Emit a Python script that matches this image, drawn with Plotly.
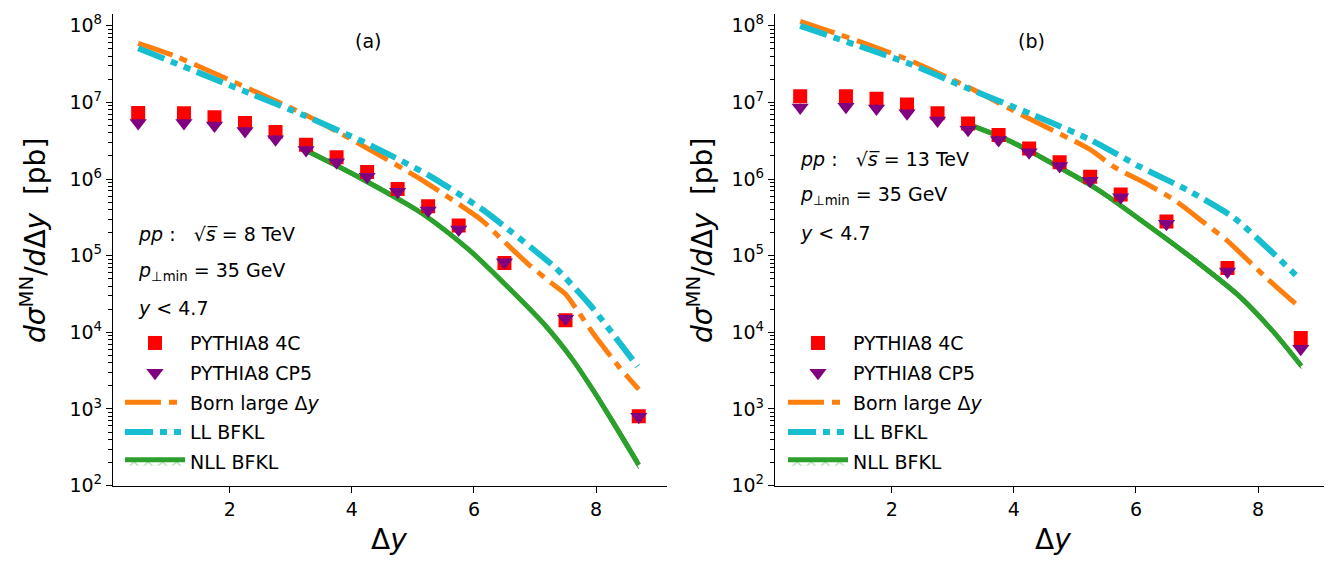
import plotly.graph_objects as go

# ---------------- data ----------------
dy_pts = [0.5, 1.25, 1.75, 2.25, 2.75, 3.25, 3.75, 4.25, 4.75, 5.25, 5.75, 6.5, 7.5, 8.7]

# panel (a): sqrt(s) = 8 TeV
a_4c = [7.3e6, 7.2e6, 6.4e6, 5.4e6, 4.1e6, 2.8e6, 1.92e6, 1.24e6, 7.4e5, 4.4e5, 2.47e5, 8.0e4, 1.44e4, 8.0e2]
a_cp5 = [5.4e6, 5.4e6, 5.0e6, 4.25e6, 3.3e6, 2.4e6, 1.66e6, 1.07e6, 6.8e5, 3.9e5, 2.19e5, 8.2e4, 1.5e4, 7.9e2]

a_born_x = [0.5, 1.11, 2.16, 3.19, 4.18, 5.15, 6.14, 6.42, 6.88, 7.26, 7.5, 7.69, 7.97, 8.37, 8.7]
a_born_y = [5.9e7, 4.0e7, 1.71e7, 7.2e6, 2.72e6, 9.7e5, 2.85e5, 1.74e5, 7.9e4, 4.45e4, 3.16e4, 1.95e4, 9.3e3, 3.6e3, 1.8e3]

a_ll_x = [0.5, 2.34, 3.19, 4.21, 5.26, 6.14, 6.63, 6.96, 7.34, 7.89, 8.68]
a_ll_y = [5.1e7, 1.3e7, 6.9e6, 3.0e6, 1.12e6, 4.0e5, 2.0e5, 1.23e5, 6.9e4, 2.34e4, 3.6e3]

a_nll_x = [3.26, 3.74, 4.19, 4.8, 5.17, 5.93, 6.63, 7.18, 7.61, 7.94, 8.27, 8.7]
a_nll_y = [2.34e6, 1.51e6, 9.8e5, 5.25e5, 3.47e5, 1.17e5, 3.4e4, 1.2e4, 4.47e3, 1.82e3, 6.9e2, 1.86e2]
a_nll_hi = [2.5e6, 1.61e6, 1.05e6, 5.6e5, 3.7e5, 1.25e5, 3.65e4, 1.29e4, 4.85e3, 2.0e3, 7.7e2, 2.1e2]
a_nll_lo = [2.2e6, 1.42e6, 9.2e5, 4.95e5, 3.26e5, 1.1e5, 3.2e4, 1.12e4, 4.1e3, 1.64e3, 6.1e2, 1.65e2]

# panel (b): sqrt(s) = 13 TeV
b_4c = [1.2e7, 1.2e7, 1.12e7, 9.4e6, 7.2e6, 5.3e6, 3.75e6, 2.5e6, 1.66e6, 1.07e6, 6.3e5, 2.8e5, 6.9e4, 8.4e3]
b_cp5 = [8.6e6, 8.8e6, 8.3e6, 7.2e6, 5.8e6, 4.4e6, 3.24e6, 2.23e6, 1.48e6, 9.5e5, 5.8e5, 2.6e5, 6.2e4, 6.1e3]

b_born_x = [0.5, 1.14, 2.2, 3.2, 4.19, 5.24, 5.64, 6.18, 6.62, 7.11, 7.49, 8.14, 8.7]
b_born_y = [1.14e8, 7.7e7, 3.8e7, 1.66e7, 6.5e6, 2.45e6, 1.44e6, 8.6e5, 5.4e5, 2.72e5, 1.58e5, 5.1e4, 2.05e4]

b_ll_x = [0.5, 2.32, 3.2, 4.31, 5.24, 6.07, 6.84, 7.6, 8.25, 8.68]
b_ll_y = [9.95e7, 3.13e7, 1.58e7, 6.9e6, 3.29e6, 1.44e6, 7.2e5, 3.15e5, 1.07e5, 5.0e4]

b_nll_x = [3.28, 3.78, 4.25, 4.78, 5.24, 5.53, 6.07, 6.62, 7.16, 7.71, 8.25, 8.71]
b_nll_y = [5.1e6, 3.56e6, 2.34e6, 1.37e6, 8.5e5, 6.0e5, 2.95e5, 1.41e5, 6.6e4, 2.88e4, 1.02e4, 3.63e3]
b_nll_hi = [5.4e6, 3.8e6, 2.5e6, 1.46e6, 9.1e5, 6.4e5, 3.15e5, 1.51e5, 7.1e4, 3.12e4, 1.1e4, 3.95e3]
b_nll_lo = [4.8e6, 3.35e6, 2.2e6, 1.28e6, 7.9e5, 5.6e5, 2.75e5, 1.31e5, 6.1e4, 2.66e4, 9.4e3, 3.35e3]

y_tickvals = [1e2, 1e3, 1e4, 1e5, 1e6, 1e7, 1e8]
y_ticktext = ["10<sup>2</sup>", "10<sup>3</sup>", "10<sup>4</sup>", "10<sup>5</sup>",
              "10<sup>6</sup>", "10<sup>7</sup>", "10<sup>8</sup>"]
x_tickvals = [2, 4, 6, 8]

# ---------------- styling ----------------
W, H = 1332, 561
FONT = "DejaVu Sans"
ORANGE = "#ff7f0e"
CYAN = "#17becf"
GREEN = "#2ca02c"
RED = "#ff0000"
PURPLE = "#800080"

fig = go.Figure()


def add_panel(ax, leg, b_x, b_y, l_x, l_y, n_x, n_y, n_hi, n_lo, p4c, pcp5):
    xa = "x" if ax == 1 else "x2"
    ya = "y" if ax == 1 else "y2"
    sfx = str(ax)
    # NLL band (lower edge, centre with fill, upper edge)
    fig.add_trace(go.Scatter(x=n_x, y=n_lo, mode="lines", xaxis=xa, yaxis=ya,
                             line=dict(color=GREEN, width=1, shape="spline", smoothing=0.8),
                             showlegend=False,
                             legend=leg, legendgroup="nll" + sfx, hoverinfo="skip"))
    fig.add_trace(go.Scatter(x=n_x, y=n_y, mode="lines", xaxis=xa, yaxis=ya,
                             line=dict(color=GREEN, width=5, shape="spline", smoothing=0.8),
                             name="NLL BFKL",
                             fill="tonexty", fillcolor="rgba(44,160,44,0.15)",
                             fillpattern=dict(shape="x", fgcolor=GREEN, bgcolor="rgba(0,0,0,0)",
                                              size=10, solidity=0.2),
                             legend=leg, legendgroup="nll" + sfx, legendrank=5))
    fig.add_trace(go.Scatter(x=n_x, y=n_hi, mode="lines", xaxis=xa, yaxis=ya,
                             line=dict(color=GREEN, width=1, shape="spline", smoothing=0.8),
                             showlegend=False,
                             fill="tonexty", fillcolor="rgba(44,160,44,0.15)",
                             legend=leg, legendgroup="nll" + sfx, hoverinfo="skip"))
    # Born and LL BFKL
    fig.add_trace(go.Scatter(x=b_x, y=b_y, mode="lines", xaxis=xa, yaxis=ya,
                             line=dict(color=ORANGE, width=5, dash="36px,8px,8px,8px",
                                       shape="spline", smoothing=0.6),
                             name="Born large Δ<i>y</i>", legend=leg,
                             legendgroup="born" + sfx, legendrank=3))
    fig.add_trace(go.Scatter(x=l_x, y=l_y, mode="lines", xaxis=xa, yaxis=ya,
                             line=dict(color=CYAN, width=6, dash="28px,7px,7px,7px,7px,7px",
                                       shape="spline", smoothing=0.6),
                             name="LL BFKL", legend=leg,
                             legendgroup="ll" + sfx, legendrank=4))
    # PYTHIA points
    fig.add_trace(go.Scatter(x=dy_pts, y=p4c, mode="markers", xaxis=xa, yaxis=ya,
                             marker=dict(symbol="square", size=14, color=RED),
                             error_y=dict(type="percent", value=12, color=RED, thickness=2, width=0),
                             name="PYTHIA8 4C", legend=leg,
                             legendgroup="p4c" + sfx, legendrank=1))
    fig.add_trace(go.Scatter(x=dy_pts, y=pcp5, mode="markers", xaxis=xa, yaxis=ya,
                             marker=dict(symbol="triangle-down", size=15, color=PURPLE),
                             error_y=dict(type="percent", value=12, color=PURPLE, thickness=2, width=0),
                             name="PYTHIA8 CP5", legend=leg,
                             legendgroup="cp5" + sfx, legendrank=2))


add_panel(1, "legend", a_born_x, a_born_y, a_ll_x, a_ll_y,
          a_nll_x, a_nll_y, a_nll_hi, a_nll_lo, a_4c, a_cp5)
add_panel(2, "legend2", b_born_x, b_born_y, b_ll_x, b_ll_y,
          b_nll_x, b_nll_y, b_nll_hi, b_nll_lo, b_4c, b_cp5)


def px(x):
    return x / W


def py(y):
    return 1 - y / H


axis_common = dict(showline=True, linecolor="black", linewidth=1.3, mirror=False,
                   ticks="outside", tickcolor="black", ticklen=6, tickwidth=1.3,
                   showgrid=False, zeroline=False,
                   tickfont=dict(family=FONT, size=19, color="black"))

xr = [0.0875, 9.1625]
yr = [2, 8.155]
ydom = [py(487), py(5)]
minor_y = dict(ticks="outside", ticklen=3.5, tickcolor="black", tickwidth=1, dtick="D1", showgrid=False)

fig.update_layout(
    width=W, height=H,
    margin=dict(l=0, r=0, t=0, b=0),
    paper_bgcolor="white", plot_bgcolor="white",
    font=dict(family=FONT, size=19, color="black"),
    xaxis=dict(domain=[px(105), px(659)], range=xr, tickvals=x_tickvals, anchor="y", **axis_common),
    yaxis=dict(domain=ydom, type="log", range=yr, tickvals=y_tickvals, ticktext=y_ticktext,
               anchor="x", minor=minor_y, **axis_common),
    xaxis2=dict(domain=[px(767), px(1321)], range=xr, tickvals=x_tickvals, anchor="y2", **axis_common),
    yaxis2=dict(domain=ydom, type="log", range=yr, tickvals=y_tickvals, ticktext=y_ticktext,
                anchor="x2", minor=minor_y, **axis_common),
    legend=dict(x=px(112), y=py(322), xanchor="left", yanchor="top",
                bgcolor="rgba(0,0,0,0)", borderwidth=0, itemwidth=60,
                tracegroupgap=2, font=dict(family=FONT, size=19, color="black")),
    legend2=dict(x=px(775), y=py(322), xanchor="left", yanchor="top",
                 bgcolor="rgba(0,0,0,0)", borderwidth=0, itemwidth=60,
                 tracegroupgap=2, font=dict(family=FONT, size=19, color="black")),
)

ann = []
ann_font = dict(family=FONT, size=19, color="black")
# panel labels
ann.append(dict(x=px(360), y=py(33), text="(a)", showarrow=False, xanchor="center", yanchor="middle", font=ann_font))
ann.append(dict(x=px(1023), y=py(33), text="(b)", showarrow=False, xanchor="center", yanchor="middle", font=ann_font))
# kinematics text
for x0, ys, en in [(128, (230, 268, 306), "8"), (790, (153, 191, 229), "13")]:
    ann.append(dict(x=px(x0), y=py(ys[0]), text="<i>pp</i> :   √<i>s\u0305</i> = " + en + " TeV",
                    showarrow=False, xanchor="left", yanchor="middle", font=ann_font))
    ann.append(dict(x=px(x0), y=py(ys[1]), text="<i>p</i><sub>⊥min</sub> = 35 GeV",
                    showarrow=False, xanchor="left", yanchor="middle", font=ann_font))
    ann.append(dict(x=px(x0), y=py(ys[2]), text="<i>y</i> < 4.7",
                    showarrow=False, xanchor="left", yanchor="middle", font=ann_font))
# axis titles
ytitle = "<i>dσ</i><sup>MN</sup>/<i>d</i>Δ<i>y</i>  [pb]"
title_font = dict(family=FONT, size=28, color="black")
ann.append(dict(x=px(26), y=py(237), text=ytitle, textangle=-90, showarrow=False,
                xanchor="center", yanchor="middle", font=title_font))
ann.append(dict(x=px(693), y=py(237), text=ytitle, textangle=-90, showarrow=False,
                xanchor="center", yanchor="middle", font=title_font))
ann.append(dict(x=px(381), y=py(542), text="Δ<i>y</i>", showarrow=False,
                xanchor="center", yanchor="middle", font=title_font))
ann.append(dict(x=px(1045), y=py(542), text="Δ<i>y</i>", showarrow=False,
                xanchor="center", yanchor="middle", font=title_font))
for a in ann:
    a["xref"] = "paper"
    a["yref"] = "paper"
fig.update_layout(annotations=ann)

fig.write_html("out.html")
